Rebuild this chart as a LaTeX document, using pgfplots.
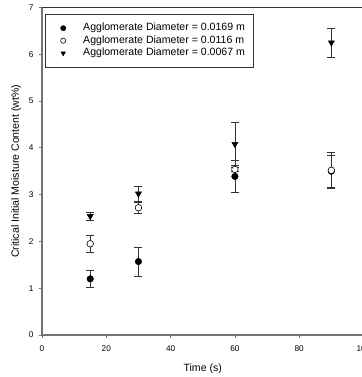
\documentclass[border=0pt]{standalone}
\usepackage{pgfplots}
\pgfplotsset{compat=1.18}
\usepackage{fontspec}
\setmainfont{Liberation Sans}
\pgfplotsset{
  mylegimg/.style={legend image code/.code={\path[draw=none,fill=none] (0,0) -- (30bp,0); \draw[##1, only marks, mark size=2.6bp] plot coordinates {(10bp,0bp)};}},
}
\begin{document}
\begin{tikzpicture}
\useasboundingbox (0,0) rectangle (362bp,377bp);
\begin{axis}[
  at={(42bp,42bp)}, anchor=south west,
  scale only axis, width=321.5bp, height=327.5bp,
  xmin=0, xmax=100, ymin=0, ymax=7,
  xtick={0,20,40,60,80,100}, ytick={0,1,2,3,4,5,6,7},
  axis x line*=bottom, axis y line*=left,
  axis line style={draw=black!55, line width=1.2pt, -},
  tick style={draw=black!55, line width=0.8pt},
  tick align=outside, major tick length=3bp,
  /pgf/number format/assume math mode=true,
  ticklabel style={font=\fontsize{8.3}{9}\selectfont},
  xticklabel style={yshift=-4bp},
  yticklabel style={xshift=-2bp},
  xlabel={Time (s)}, ylabel={Critical Initial Moisture Content (wt\%)},
  label style={font=\fontsize{10.6}{12}\selectfont},
  xlabel style={yshift=-6bp},
  ylabel style={yshift=1bp},
  legend style={at={(0.0093,0.980)}, anchor=north west, draw=black!80, line width=0.5pt,
    font=\fontsize{10.6}{12.5}\selectfont, row sep=2.7bp, inner xsep=8bp, inner ysep=9bp,
    nodes={inner sep=0pt, text height=7.6bp, text depth=2.2bp}, column sep=0pt},
  legend cell align=left,
]
\addplot[only marks, mark=*, mark size=3.3bp, mark options={fill=black, draw=black}, mylegimg,
  error bars/.cd, y dir=both, y explicit,
  error bar style={black!80, line width=0.6pt},
  error mark options={rotate=90, mark size=4bp, line width=0.6pt}]
  coordinates {(15,1.20) +- (0,0.18) (30,1.57) +- (0,0.31) (60,3.39) +- (0,0.35) (90,3.50) +- (0,0.34)};
\addlegendentry{Agglomerate Diameter = 0.0169 m}
\addplot[only marks, mark=*, mark size=3.3bp, mark options={fill=white, draw=black, line width=0.6pt}, mylegimg,
  error bars/.cd, y dir=both, y explicit,
  error bar style={black!80, line width=0.6pt},
  error mark options={rotate=90, mark size=4bp, line width=0.6pt}]
  coordinates {(15,1.95) +- (0,0.19) (30,2.72) +- (0,0.12) (60,3.54) +- (0,0.05) (90,3.52) +- (0,0.38)};
\addlegendentry{Agglomerate Diameter = 0.0116 m}
\addplot[only marks, mark=triangle*, mark size=3.6bp, mark options={fill=black, draw=black, rotate=180}, mylegimg,
  error bars/.cd, y dir=both, y explicit,
  error bar style={black!80, line width=0.6pt},
  error mark options={rotate=90, mark size=4bp, line width=0.6pt}]
  coordinates {(15,2.54) +- (0,0.09) (30,3.02) +- (0,0.16) (60,4.08) +- (0,0.46) (90,6.25) +- (0,0.31)};
\addlegendentry{Agglomerate Diameter = 0.0067 m}
\draw[black!80, line width=0.6pt] (rel axis cs:0,1) -- (rel axis cs:1,1);
\end{axis}
\end{tikzpicture}
\end{document}
